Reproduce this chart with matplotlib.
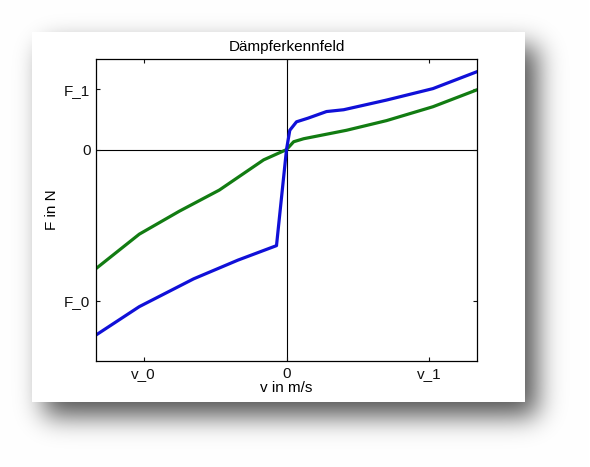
import numpy as np
import matplotlib.pyplot as plt
from matplotlib.patches import Rectangle

plt.rcParams['font.family'] = ['Liberation Sans', 'DejaVu Sans']

# damper characteristic (v in units of v_1, F in units of F_1)
v_blue = [-1.333, -1.03, -0.65, -0.34, -0.07, 0.0, 0.023, 0.07, 0.15, 0.28, 0.40, 0.70, 1.025, 1.333]
F_blue = [-3.07, -2.60, -2.14, -1.83, -1.59, 0.0, 0.32, 0.46, 0.52, 0.63, 0.66, 0.82, 1.01, 1.29]

v_green = [-1.333, -1.03, -0.75, -0.47, -0.16, 0.0, 0.05, 0.12, 0.42, 0.70, 1.025, 1.333]
F_green = [-1.97, -1.40, -1.02, -0.67, -0.17, 0.0, 0.13, 0.18, 0.32, 0.48, 0.71, 0.99]

x_ticks = [-1, 0, 1]
x_labels = ['v_0', '0', 'v_1']
y_ticks = [-2.5, 0, 1]
y_labels = ['F_0', '0', 'F_1']

W, H = 590, 467
fig = plt.figure(figsize=(W / 100, H / 100), dpi=100)


def soft_step(n, a, b, sigma):
    # blurred 1D box from a to b
    m = np.zeros(n)
    m[a:b] = 1.0
    k = np.arange(-4 * sigma, 4 * sigma + 1)
    g = np.exp(-k ** 2 / (2.0 * sigma ** 2))
    g /= g.sum()
    return np.convolve(m, g, mode='same')


# drop shadow of the card
card = (32, 32, 525, 402)  # x0, y0, x1, y1 in pixels (top-left origin)
dx, dy, sig = 12, 14, 13
sx = soft_step(W, card[0] + dx, card[2] + dx, sig)
sy = soft_step(H, card[1] + dy, card[3] + dy, sig)
shade = 1 - 0.68 * np.outer(sy, sx)
img = np.dstack([shade, shade, shade])
fig.figimage(img[::-1], xo=0, yo=0, origin='lower', zorder=0)

fig.patches.append(Rectangle((card[0] / W, 1 - card[3] / H),
                             (card[2] - card[0]) / W, (card[3] - card[1]) / H,
                             transform=fig.transFigure, facecolor='white',
                             edgecolor='none', zorder=1))

ax = fig.add_axes([96 / W, 1 - 361 / H, 381 / W, 302 / H], zorder=2)
ax.plot(v_green, F_green, color='#127c12', lw=2.3, solid_joinstyle='round')
ax.plot(v_blue, F_blue, color='#1010d8', lw=2.3, solid_joinstyle='round')
ax.axhline(0, color='black', lw=0.8, zorder=1)
ax.axvline(0, color='black', lw=0.8, zorder=1)

ax.set_xlim(-1.333, 1.333)
ax.set_ylim(-3.5, 1.5)
ax.set_xticks(x_ticks, x_labels)
ax.set_yticks(y_ticks, y_labels)
ax.tick_params(direction='in', length=3, width=0.8, top=True, right=True,
               labelsize=11, pad=4, colors='#111111')
for s in ax.spines.values():
    s.set_linewidth(0.9)

ax.set_title('Dämpferkennfeld', fontsize=11, pad=6)
ax.set_xlabel('v in m/s', fontsize=11, labelpad=0)
ax.set_ylabel('F in N', fontsize=11, labelpad=4)

fig.savefig('out.png', dpi=100)
